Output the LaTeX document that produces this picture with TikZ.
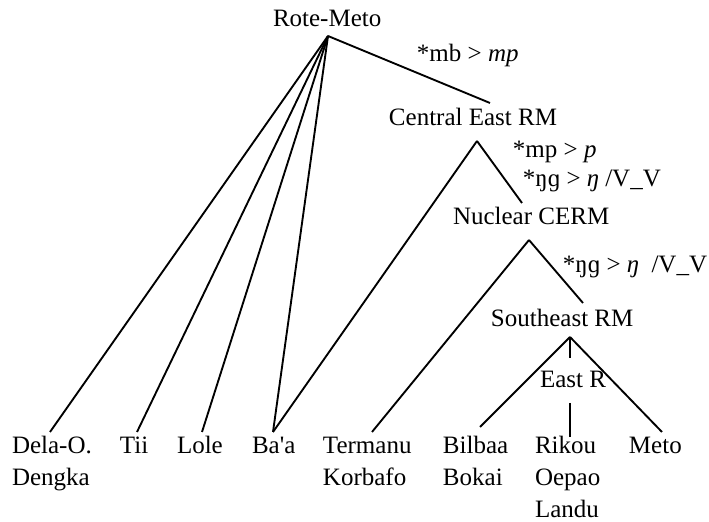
\documentclass[tikz,border=0pt]{standalone}
\usepackage{fontspec}
\setmainfont{Liberation Serif}[Ligatures=TeXOff]
\begin{document}
\begin{tikzpicture}[x=0.48pt,y=-0.48pt,
  lbl/.style={inner sep=0pt,outer sep=0pt,anchor=base west,align=left,font=\fontsize{12}{15.36}\selectfont},
  br/.style={line width=0.9pt}]
\useasboundingbox (0,0) rectangle (709,522);
% labels (multi-line labels are placed by the baseline of their last line)
\node[lbl] (rote) at (273,27) {Rote-Meto};
\node[lbl] (mb) at (417,62) {*mb > \textit{mp}};
\node[lbl] (cerm) at (389,126) {Central East RM};
\node[lbl] (mp) at (513,158) {*mp > \textit{p}};
\node[lbl] (ng1) at (523,187) {*ŋɡ > \textit{ŋ} /V\_V};
\node[lbl] (ncerm) at (453,225) {Nuclear CERM};
\node[lbl] (ng2) at (563,273) {*ŋɡ > \textit{ŋ}\ \ /V\_V};
\node[lbl] (serm) at (491,327) {Southeast RM};
\node[lbl] (eastr) at (540,388) {East R};
\node[lbl] (dela) at (12,486) {Dela-O.\\Dengka};
\node[lbl] (tii) at (120,454) {Tii};
\node[lbl] (lole) at (177,454) {Lole};
\node[lbl] (baa) at (252,454) {Ba'a};
\node[lbl] (term) at (323,486) {Termanu\\Korbafo};
\node[lbl] (bilb) at (443,486) {Bilbaa\\Bokai};
\node[lbl] (rik) at (535,518) {Rikou\\Oepao\\Landu};
\node[lbl] (meto) at (629,454) {Meto};
% junctions
\coordinate (jA) at (328,36);
\coordinate (jAr) at (490,103);
\coordinate (jB) at (477,141);
\coordinate (jBr) at (522,203);
\coordinate (jC) at (529,240);
\coordinate (jCr) at (583,303);
\coordinate (jD) at (570,337);
\coordinate (jDm) at (570,358);
\coordinate (jE) at (570,403);
\coordinate (tDela) at (50,432);
\coordinate (tTii) at (137,432);
\coordinate (tLole) at (202,432);
\coordinate (tBaa) at (273,432);
\coordinate (tTerm) at (372,432);
\coordinate (tBilb) at (480,427);
\coordinate (tRik) at (570,437);
\coordinate (tMeto) at (662,432);
% branches
\draw[br] (jA) -- (jAr);
\draw[br] (jA) -- (tDela);
\draw[br] (jA) -- (tTii);
\draw[br] (jA) -- (tLole);
\draw[br] (jA) -- (tBaa);
\draw[br] (jB) -- (tBaa);
\draw[br] (jB) -- (jBr);
\draw[br] (jC) -- (tTerm);
\draw[br] (jC) -- (jCr);
\draw[br] (jD) -- (tBilb);
\draw[br] (jD) -- (jDm);
\draw[br] (jD) -- (tMeto);
\draw[br] (jE) -- (tRik);
\end{tikzpicture}
\end{document}
